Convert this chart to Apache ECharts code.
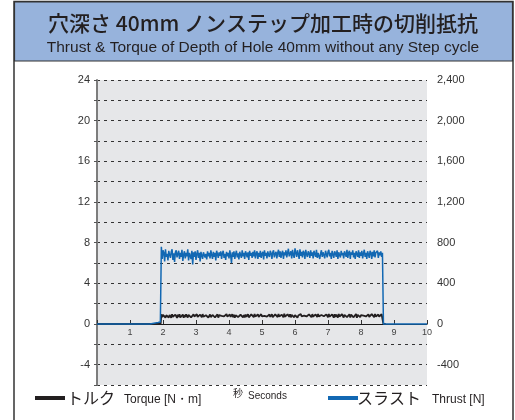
<!DOCTYPE html>
<html>
<head>
<meta charset="utf-8">
<script src="https://cdn.jsdelivr.net/npm/echarts@6/dist/echarts.min.js"></script>
<style>
  html, body { margin: 0; padding: 0; background: #fff; }
  #chart { width: 515px; height: 420px; }
</style>
</head>
<body>
<div id="chart"></div>
<script>
// Cutting resistance while drilling a 40 mm deep hole without step cycle.

// Sampling of the steady cutting section (seconds)
const plateauStart = 1.95;
const plateauStep = 0.025;

// Thrust [N] during cutting, one value per sample
const thrustPlateau = [
  760,
  640, 725, 700, 615, 735, 660, 690, 625, 720, 680,
  650, 710, 735, 630, 695, 610, 705, 725, 655, 690,
  720, 640, 700, 660, 730, 620, 685, 715, 645, 700,
  665, 735, 625, 700, 690, 640, 720, 585, 705, 660,
  715, 630, 690, 725, 650, 700, 615, 710, 675, 640,
  705, 720, 655, 690, 635, 715, 665, 700, 645, 725,
  680, 640, 710, 660, 700, 625, 720, 690, 650, 705,
  670, 715, 640, 695, 720, 650, 690, 630, 710, 665,
  700, 645, 725, 675, 600, 705, 660, 715, 640, 690,
  720, 655, 695, 635, 710, 680, 650, 725, 665, 700,
  640, 715, 690, 655, 705, 630, 720, 670, 700, 650,
  710, 665, 725, 645, 695, 715, 640, 700, 660, 720,
  650, 690, 710, 635, 725, 670, 700, 645, 715, 680,
  660, 720, 695, 640, 705, 725, 655, 690, 710, 645,
  700, 730, 660, 715, 650, 695, 720, 640, 705, 675,
  725, 655, 700, 740, 665, 690, 715, 645, 730, 680,
  650, 745, 700, 660, 725, 690, 640, 735, 670, 710,
  655, 720, 700, 640, 730, 685, 660, 715, 695, 650,
  725, 670, 705, 645, 720, 690, 660, 730, 650, 700,
  715, 640, 695, 725, 660, 705, 680, 645, 720, 690,
  655, 710, 730, 665, 700, 640, 720, 685, 650, 715,
  695, 660, 725, 640, 705, 690, 655, 720, 675, 700,
  645, 715, 690, 660, 730, 650, 700, 720, 640, 705,
  680, 725, 655, 700, 640, 715, 690, 660, 725, 650,
  705, 670, 720, 645, 695, 730, 660, 700, 640, 715,
  685, 650, 720, 700, 640, 710, 665, 725, 655, 700,
  690, 720, 650, 705, 675, 715, 660, 700
];

// Torque [N·m] during cutting, one value per sample
const torquePlateau = [
  0.95,
  0.66, 0.90, 0.74, 0.98, 0.62, 0.86, 0.70, 0.94, 0.64, 0.88,
  0.78, 0.62, 0.96, 0.72, 0.84, 0.66, 0.92, 0.76, 0.60, 0.90,
  0.70, 0.97, 0.64, 0.82, 0.74, 0.93, 0.62, 0.88, 0.68, 0.95,
  0.76, 0.63, 0.90, 0.72, 0.98, 0.66, 0.85, 0.62, 0.94, 0.74,
  0.88, 0.65, 0.96, 0.70, 0.82, 0.62, 0.92, 0.78, 0.66, 0.97,
  0.72, 0.90, 0.63, 0.86, 0.74, 0.95, 0.64, 0.80, 0.93, 0.68,
  0.62, 0.89, 0.76, 0.97, 0.66, 0.84, 0.70, 0.94, 0.63, 0.87,
  0.92, 0.68, 0.80, 0.62, 0.96, 0.74, 0.88, 0.65, 0.98, 0.72,
  0.85, 0.64, 0.93, 0.70, 0.78, 0.97, 0.66, 0.90, 0.62, 0.86,
  0.74, 0.95, 0.68, 0.82, 0.63, 0.91, 0.76, 0.99, 0.66, 0.88,
  0.64, 0.93, 0.72, 0.86, 0.97, 0.65, 0.80, 0.62, 0.94, 0.75,
  0.90, 0.67, 0.98, 0.73, 0.84, 0.63, 0.95, 0.70, 0.88, 0.66,
  0.96, 0.74, 0.62, 0.91, 0.80, 0.68, 0.99, 0.72, 0.86, 0.64,
  0.93, 0.70, 0.85, 0.97, 0.66, 0.82, 0.63, 0.95, 0.76, 0.90,
  0.68, 0.98, 0.74, 0.87, 0.64, 0.92, 0.78, 0.66, 1.00, 0.72,
  0.86, 0.63, 0.95, 0.80, 0.70, 0.97, 0.65, 0.90, 0.74, 0.99,
  0.66, 0.88, 0.72, 0.96, 0.62, 0.84, 0.93, 0.70, 0.98, 0.76,
  0.64, 0.92, 0.82, 0.68, 1.00, 0.74, 0.88, 0.63, 0.95, 0.78,
  0.90, 0.66, 0.97, 0.72, 0.85, 0.62, 0.94, 0.80, 0.68, 0.99,
  0.74, 0.93, 0.64, 0.88, 0.70, 0.98, 0.76, 0.86, 0.63, 0.95,
  0.82, 0.67, 0.99, 0.72, 0.90, 0.65, 0.94, 0.78, 0.62, 0.97,
  0.70, 0.92, 0.84, 0.64, 0.98, 0.74, 0.88, 0.66, 0.96, 0.80,
  0.63, 0.90, 0.75, 1.00, 0.68, 0.86, 0.72, 0.95, 0.64, 0.92,
  0.78, 0.97, 0.66, 0.84, 0.70, 0.99, 0.62, 0.90, 0.76, 0.94,
  0.68, 0.88, 0.96, 0.72, 0.82, 0.64, 0.98, 0.74, 0.90, 0.66,
  0.95, 0.70, 0.86, 0.63, 0.97, 0.78, 0.92, 0.67, 0.99, 0.74,
  0.88, 0.64, 0.94, 0.72, 0.90, 0.66, 0.96, 0.80
];

// Idle stretches before and after cutting: [seconds, value]
const thrustLeadIn = [[0, 0], [1.6, 0], [1.85, 15], [1.92, 20]];
const thrustTail = [[8.68, 0], [10, 0]];
const torqueLeadIn = [[0, 0], [1.85, 0], [1.93, 0.05]];
const torqueTail = [[8.68, 0], [8.75, 0]];

// Axis ticks
const xTicks = [1, 2, 3, 4, 5, 6, 7, 8, 9, 10];
const torqueAxis = { min: -6, max: 24, step: 2, labelStep: 4 };
const thrustAxis = { min: -600, max: 2400, step: 200, labelStep: 400 };

function buildSeries(lead, plateau, tail) {
  const pts = lead.slice();
  plateau.forEach((v, i) => pts.push([+(plateauStart + i * plateauStep).toFixed(3), v]));
  return pts.concat(tail);
}

const thrustData = buildSeries(thrustLeadIn, thrustPlateau, thrustTail);
const torqueData = buildSeries(torqueLeadIn, torquePlateau, torqueTail);

const chart = echarts.init(document.getElementById('chart'), null, { renderer: 'canvas' });

const latin = 'Liberation Sans, Arial, sans-serif';
const jp = '"Noto Sans CJK JP", sans-serif';

chart.setOption({
  animation: false,
  backgroundColor: '#ffffff',
  grid: [
    // full plotting area
    { left: 97, right: 88, top: 80, bottom: 35, show: true, backgroundColor: '#e6e7e9', borderWidth: 0 },
    // upper part, its bottom edge sits on the zero line and carries the time axis
    { left: 97, right: 88, top: 80, bottom: 96, show: false }
  ],
  xAxis: [
    { type: 'value', gridIndex: 0, min: 0, max: 10, interval: 1, show: false },
    {
      type: 'value', gridIndex: 1, min: 0, max: 10, interval: 1, position: 'bottom',
      axisLine: { show: true, onZero: false, lineStyle: { color: '#1a1a1a', width: 1.2 } },
      axisTick: { show: true, inside: true, length: 4, lineStyle: { color: '#333' } },
      axisLabel: {
        margin: 4, fontSize: 9, color: '#444', fontFamily: latin,
        formatter: v => (xTicks.includes(v) ? String(v) : '')
      },
      splitLine: { show: false }
    }
  ],
  yAxis: [
    {
      type: 'value', gridIndex: 0, min: torqueAxis.min, max: torqueAxis.max, interval: torqueAxis.step,
      axisLine: { show: true, lineStyle: { color: '#7d7d7d', width: 2 } },
      axisTick: { show: true, length: 3, lineStyle: { color: '#555' } },
      axisLabel: {
        margin: 7, fontSize: 11, color: '#333', fontFamily: latin,
        formatter: v => (v % torqueAxis.labelStep === 0 ? String(v) : '')
      },
      splitLine: { show: true, lineStyle: { color: '#333', type: [3, 4], width: 1 } }
    },
    {
      type: 'value', gridIndex: 0, min: thrustAxis.min, max: thrustAxis.max, interval: thrustAxis.step,
      position: 'right',
      axisLine: { show: false },
      axisTick: { show: false },
      axisLabel: {
        margin: 10, fontSize: 11, color: '#333', fontFamily: latin,
        formatter: v => (v % thrustAxis.labelStep === 0 ? v.toLocaleString('en-US') : '')
      },
      splitLine: { show: false }
    },
    { type: 'value', gridIndex: 1, min: 0, max: 24, show: false }
  ],
  series: [
    {
      name: 'Torque', type: 'line', xAxisIndex: 0, yAxisIndex: 0, data: torqueData,
      showSymbol: false, symbol: 'none', z: 3,
      lineStyle: { color: '#231f20', width: 1.8 }
    },
    {
      name: 'Thrust', type: 'line', xAxisIndex: 0, yAxisIndex: 1, data: thrustData,
      showSymbol: false, symbol: 'none', z: 4,
      lineStyle: { color: '#1268b3', width: 1.5 }
    }
  ],
  graphic: [
    // outer frame and title band
    { type: 'rect', z: -10, shape: { x: 14, y: 1.5, width: 499, height: 430 },
      style: { fill: 'none', stroke: '#333', lineWidth: 1.5 } },
    { type: 'rect', z: -9, shape: { x: 14.5, y: 2, width: 498, height: 59 },
      style: { fill: '#97b3dc', stroke: '#333', lineWidth: 1.2 } },
    { type: 'text', x: 263, y: 23, style: {
        text: '穴深さ 40mm ノンステップ加工時の切削抵抗', align: 'center', verticalAlign: 'middle',
        font: '500 21px ' + jp, fill: '#231f20' } },
    { type: 'text', x: 263, y: 48, style: {
        text: 'Thrust & Torque of Depth of Hole 40mm without any Step cycle', align: 'center', verticalAlign: 'middle',
        font: '15.5px ' + latin, fill: '#231f20' } },
    // x axis name
    { type: 'text', x: 233, y: 393, style: { text: '秒', font: '10px ' + jp, fill: '#231f20', verticalAlign: 'middle' } },
    { type: 'text', x: 248, y: 396, style: { text: 'Seconds', font: '10px ' + latin, fill: '#231f20', verticalAlign: 'middle' } },
    // legend
    { type: 'rect', shape: { x: 35, y: 396, width: 30, height: 4 }, style: { fill: '#231f20' } },
    { type: 'text', x: 67, y: 398, style: { text: 'トルク', font: '16px ' + jp, fill: '#231f20', verticalAlign: 'middle' } },
    { type: 'text', x: 124, y: 400, style: { text: 'Torque [N・m]', font: '12px ' + latin, fill: '#231f20', verticalAlign: 'middle' } },
    { type: 'rect', shape: { x: 328, y: 396, width: 30, height: 4 }, style: { fill: '#1268b3' } },
    { type: 'text', x: 357, y: 398, style: { text: 'スラスト', font: '16px ' + jp, fill: '#231f20', verticalAlign: 'middle' } },
    { type: 'text', x: 432, y: 400, style: { text: 'Thrust [N]', font: '12px ' + latin, fill: '#231f20', verticalAlign: 'middle' } }
  ]
});
</script>
</body>
</html>
